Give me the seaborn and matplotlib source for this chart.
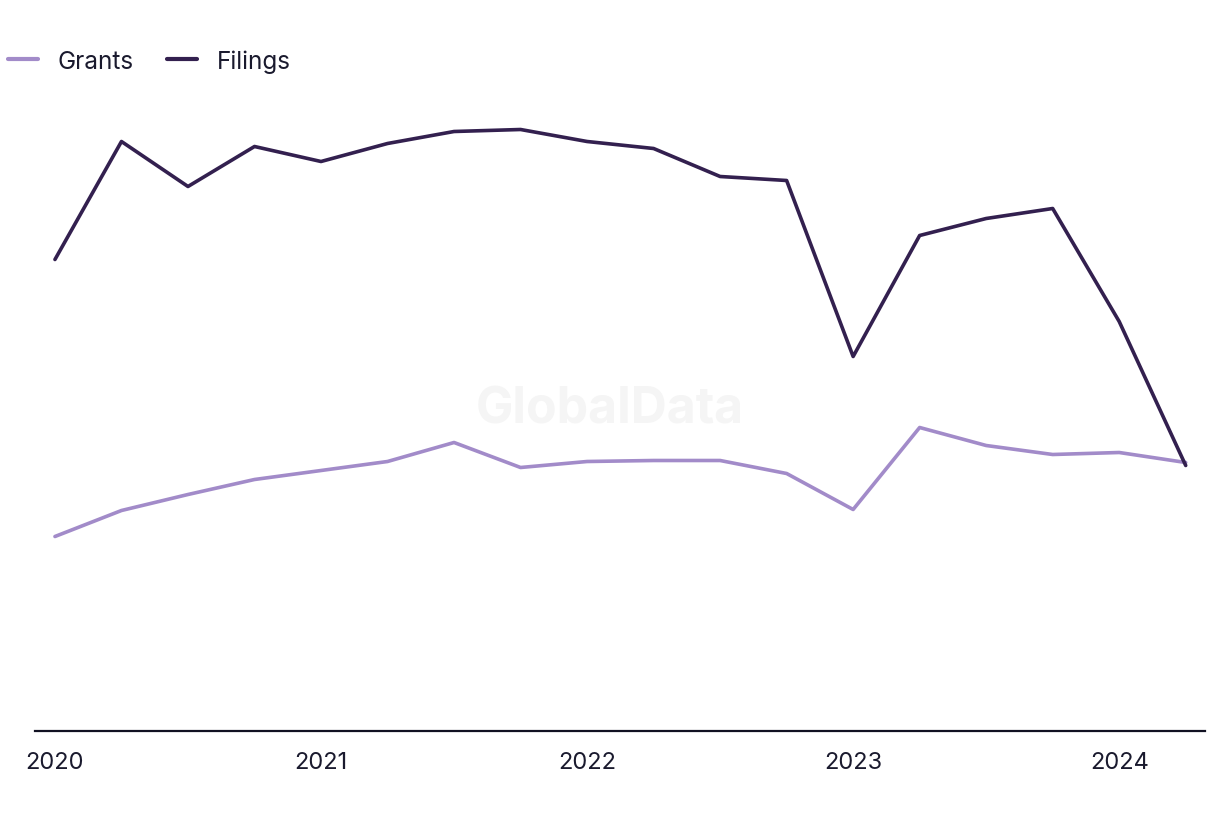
import matplotlib
matplotlib.use("Agg")
import matplotlib.pyplot as plt
import seaborn as sns
import pandas as pd
from matplotlib.lines import Line2D

quarters = ["2020Q1", "2020Q2", "2020Q3", "2020Q4",
            "2021Q1", "2021Q2", "2021Q3", "2021Q4",
            "2022Q1", "2022Q2", "2022Q3", "2022Q4",
            "2023Q1", "2023Q2", "2023Q3", "2023Q4",
            "2024Q1", "2024Q2"]
filings = [471, 589, 544, 584, 569, 587, 599, 601, 589, 582, 554, 550,
           374, 495, 512, 522, 409, 265]
grants = [194, 220, 236, 251, 260, 269, 288, 263, 269, 270, 270, 257,
          221, 303, 285, 276, 278, 268]
tick_labels = ["2020", "2021", "2022", "2023", "2024"]

sns.set_theme(style="white")
plt.rcParams["font.family"] = ["Inter", "DejaVu Sans"]

idx = list(range(len(quarters)))
df = pd.DataFrame({
    "idx": idx * 2,
    "value": grants + filings,
    "series": ["Grants"] * len(idx) + ["Filings"] * len(idx),
})

fig = plt.figure(figsize=(12.2, 8.2), dpi=100)
ax = fig.add_axes([35 / 1220, 88.5 / 820, 1170 / 1220, 690 / 820])

palette = {"Grants": "#A28BC9", "Filings": "#33204F"}
sns.lineplot(data=df, x="idx", y="value", hue="series", palette=palette,
             linewidth=2.6, ax=ax, legend=False)

ax.set_xlim(-0.30, 17.29)
ax.set_ylim(0, 690)
ax.set_xticks([0, 4, 8, 12, 16])
ax.set_xticklabels(tick_labels, fontsize=17, color="#1a1a2e")
ax.tick_params(axis="x", length=0, pad=15)
ax.set_yticks([])
ax.set_xlabel("")
ax.set_ylabel("")
for s in ["top", "right", "left"]:
    ax.spines[s].set_visible(False)
ax.spines["bottom"].set_color("#111122")
ax.spines["bottom"].set_linewidth(1.6)

# watermark
fig.text(610 / 1220, 1 - 410 / 820, "GlobalData", ha="center", va="center",
         fontsize=36, fontweight="bold", color="#f5f5f5", zorder=0)

# legend
handles = [Line2D([0], [0], color=palette["Grants"], lw=3),
           Line2D([0], [0], color=palette["Filings"], lw=3)]
fig.legend(handles, ["Grants", "Filings"], loc="center left",
           bbox_to_anchor=(8 / 1220, 1 - 62 / 820), ncol=2, frameon=False,
           fontsize=17.5, handlelength=1.25, handletextpad=0.8,
           columnspacing=1.35, borderaxespad=0, borderpad=0,
           labelcolor="#1a1a2e")

fig.savefig("out.png", dpi=100, facecolor="white")
